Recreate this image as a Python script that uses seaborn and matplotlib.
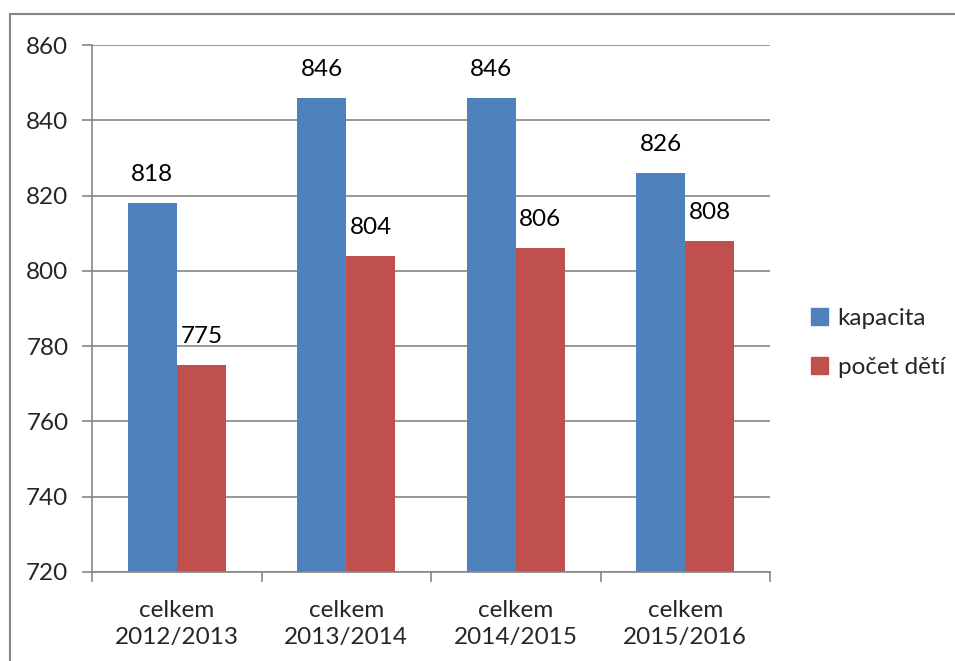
import pandas as pd
import matplotlib.pyplot as plt
import matplotlib.patches as mpatches
import seaborn as sns

# data
years = ['celkem\n2012/2013', 'celkem\n2013/2014', 'celkem\n2014/2015', 'celkem\n2015/2016']
kapacita = [818, 846, 846, 826]
pocet_deti = [775, 804, 806, 808]
series = ['kapacita', 'počet dětí']
colors = ['#4F81BD', '#C0504D']

df = pd.DataFrame({
    'rok': years * 2,
    'hodnota': kapacita + pocet_deti,
    'serie': [series[0]] * len(years) + [series[1]] * len(years),
})

sns.set_style('white')
plt.rcParams['font.family'] = ['Lato', 'DejaVu Sans']
fs = 17.5

fig = plt.figure(figsize=(9.55, 6.61), dpi=100)
ax = fig.add_axes([92 / 955, 1 - 572 / 661, (770 - 92) / 955, (572 - 45) / 661])

sns.barplot(data=df, x='rok', y='hodnota', hue='serie', palette=colors,
            width=0.58, gap=0, saturation=1, linewidth=0, ax=ax, legend=False)

ax.set_ylim(720, 860)
ax.set_xlim(-0.5, len(years) - 0.5)
ax.set_yticks(range(720, 861, 20))
ax.yaxis.grid(True, color='#868686', linewidth=1.2)
ax.set_axisbelow(True)
ax.set_xlabel('')
ax.set_ylabel('')

for c in ax.containers:
    ax.bar_label(c, fontsize=fs, padding=13, color='black')

# ticks between categories like the original
ax.set_xticks([i - 0.5 for i in range(len(years) + 1)], minor=True)
ax.tick_params(axis='x', which='minor', length=7, width=1.2, color='#868686', bottom=True)
ax.tick_params(axis='x', which='major', length=0, labelsize=fs, pad=20)
ax.tick_params(axis='y', length=7, width=1.2, color='#868686', labelsize=fs, pad=10, left=True)
for t in ax.get_xticklabels():
    t.set_linespacing(1.35)

for s in ['top', 'right']:
    ax.spines[s].set_visible(False)
for s in ['left', 'bottom']:
    ax.spines[s].set_color('#868686')
    ax.spines[s].set_linewidth(1.2)

handles = [mpatches.Patch(color=c, label=l) for c, l in zip(colors, series)]
fig.legend(handles=handles, loc='center left', bbox_to_anchor=(811 / 955, 1 - 343 / 661),
           frameon=False, fontsize=fs, handlelength=0.7, handleheight=0.7,
           handletextpad=0.4, labelspacing=1.15, borderpad=0, borderaxespad=0)

# outer chart frame
fig.add_artist(mpatches.Rectangle((10 / 955, -0.1), 1.1, 1 - 14 / 661 + 0.1,
                                  transform=fig.transFigure, fill=False,
                                  edgecolor='#868686', linewidth=1.5))

fig.savefig('out.png', dpi=100)
